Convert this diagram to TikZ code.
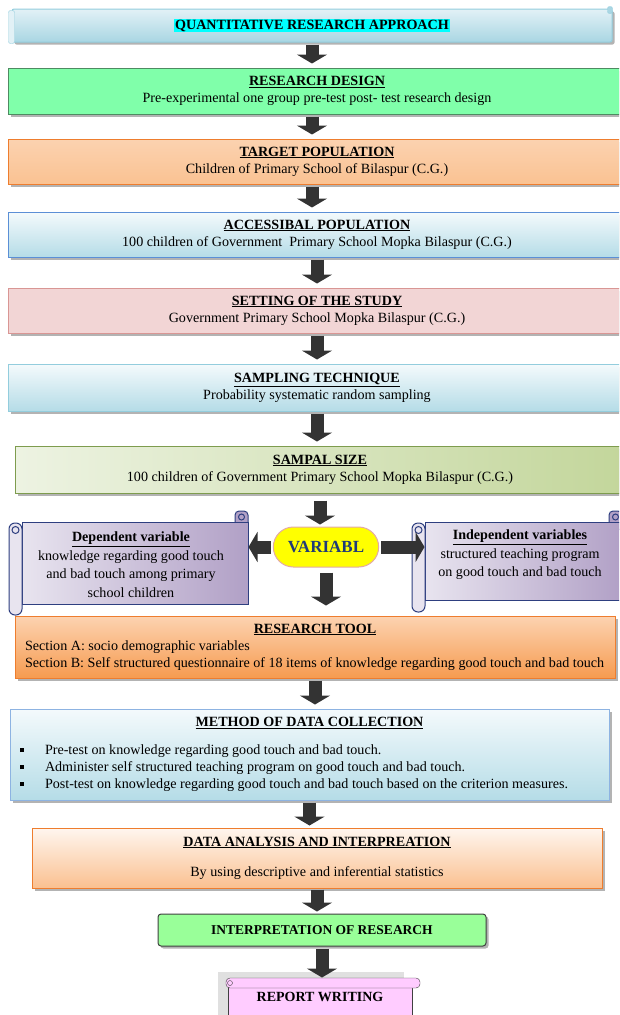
\documentclass[tikz,border=0pt]{standalone}
\usepackage{fontspec}
\setmainfont{Liberation Serif}
\usetikzlibrary{%
  arrows.meta,%
  shapes.misc,% wg. rounded rectangle
  shadows,%
  calc%
}
\setlength{\fboxsep}{1pt}

\definecolor{hlcyan}{HTML}{00FFFF}
\definecolor{bantop}{HTML}{E2F1F6}
\definecolor{banbot}{HTML}{A9D6E3}
\definecolor{banline}{HTML}{93CDDD}
\definecolor{rdfill}{HTML}{80FFAA}
\definecolor{rdline}{HTML}{4F8A62}
\definecolor{peachtop}{HTML}{FBD2B0}
\definecolor{peachmid}{HTML}{FDEBDD}
\definecolor{peachbot}{HTML}{FAC292}
\definecolor{orline}{HTML}{EE7D2E}
\definecolor{skytop}{HTML}{F4FAFC}
\definecolor{skybot}{HTML}{B5DCE7}
\definecolor{apline}{HTML}{5B8FD6}
\definecolor{stline}{HTML}{93CDDD}
\definecolor{ssfill}{HTML}{F2D5D5}
\definecolor{ssline}{HTML}{D99694}
\definecolor{szleft}{HTML}{EDF3E2}
\definecolor{szright}{HTML}{C3D69B}
\definecolor{szline}{HTML}{7E9C4E}
\definecolor{scrlleft}{HTML}{E8E4EF}
\definecolor{scrlright}{HTML}{B1A0C6}
\definecolor{scrlline}{HTML}{2E3F80}
\definecolor{varfill}{HTML}{FFFF00}
\definecolor{varline}{HTML}{E3A9A8}
\definecolor{vartext}{HTML}{1F3A78}
\definecolor{rttop}{HTML}{FCD3B1}
\definecolor{rtbot}{HTML}{F69B50}
\definecolor{mdcline}{HTML}{8DB3E2}
\definecolor{datop}{HTML}{FFF6EF}
\definecolor{dabot}{HTML}{FAC090}
\definecolor{irfill}{HTML}{99FF99}
\definecolor{rwfill}{HTML}{FFCCFF}

\newcommand{\ttl}[1]{\underline{\textbf{#1}}}
\newcommand{\sqbul}{\rule[2.5pt]{4pt}{4pt}}

\begin{document}
\begin{tikzpicture}
[x=1pt, y=-1pt, font=\fontsize{14.1}{17}\selectfont,
box/.style={rectangle, draw, line width=1pt, inner sep=0pt, align=center,
  drop shadow={shadow xshift=2.5pt, shadow yshift=-2.5pt, fill=black!50, opacity=0.6}},
flatbox/.style={rectangle, draw, line width=1pt, inner sep=0pt},
skybox/.style={box, top color=skytop, bottom color=skybot},
peachbox/.style={box, top color=peachtop, middle color=peachmid, bottom color=peachbot, draw=orline},
scrollbody/.style={flatbox, draw=scrlline, left color=scrlleft, right color=scrlright},
scrollrim/.style={draw=scrlline, line width=1pt},
scrolltext/.style={align=center, font=\fontsize{14.1}{18.5}\selectfont},
blk/.style={-{Triangle[width=30pt, length=9pt]}, line width=13pt, draw=black!80,
  shorten <=2pt, shorten >=4pt}]

\useasboundingbox (0,0) rectangle (619,1015);
\clip (0,0) rectangle (619,1015);

% approach banner
\node[box, draw=banline, top color=bantop, bottom color=banbot, rounded corners=2pt,
  minimum width=600pt, minimum height=33pt] (qra) at (312,25.5)
  {\colorbox{hlcyan}{\textbf{QUANTITATIVE RESEARCH APPROACH}}};
\draw[draw=banline, fill=bantop, rounded corners=2pt] ($(qra.north west)+(-3,2)$) rectangle ($(qra.south west)+(3,1)$);
\draw[draw=banline, fill=banbot, rounded corners=2pt] ($(qra.north east)+(-5,-2)$) rectangle ($(qra.north east)+(0,5)$);

\node[box, draw=rdline, fill=rdfill, minimum width=618pt, minimum height=46pt] (rd) at (317,91)
  {\ttl{RESEARCH DESIGN}\\Pre-experimental one group pre-test post- test research design};

\node[peachbox, minimum width=618pt, minimum height=45pt] (tp) at (317,161.5)
  {\ttl{TARGET POPULATION}\\Children of Primary School of Bilaspur (C.G.)};

\node[skybox, draw=apline, minimum width=618pt, minimum height=45pt] (ap) at (317,234.5)
  {\ttl{ACCESSIBAL POPULATION}\\100 children of Government\ \ Primary School Mopka Bilaspur (C.G.)};

\node[box, draw=ssline, fill=ssfill, minimum width=618pt, minimum height=45pt] (ss) at (317,310.5)
  {\ttl{SETTING OF THE STUDY}\\Government Primary School Mopka Bilaspur (C.G.)};

\node[skybox, draw=stline, minimum width=618pt, minimum height=47pt] (st) at (317,387.5)
  {\ttl{SAMPLING TECHNIQUE}\\Probability systematic random sampling};

\node[box, draw=szline, left color=szleft, right color=szright, minimum width=610pt, minimum height=47pt] (sz) at (320,469.5)
  {\ttl{SAMPAL SIZE}\\100 children of Government Primary School Mopka Bilaspur (C.G.)};

% variables
\node[rounded rectangle, draw=varline, line width=1pt, fill=varfill, minimum width=112pt, minimum height=40pt,
  font=\fontsize{17}{20}\selectfont\bfseries, text=vartext] (var) at (326,547) {VARIABL};

\draw[scrollrim, fill=scrlright, rounded corners=4pt] (235,511) rectangle (248,530);
\node[scrollbody, minimum width=226pt, minimum height=82pt] (dep) at (135,563) {};
\draw[scrollrim, fill=scrlleft, rounded corners=6pt] (9,523) rectangle (22,615);
\draw[scrollrim] (15.5,530) circle[radius=3.5pt];
\draw[scrollrim] (241.5,517) circle[radius=3pt];
\node[scrolltext] (deptxt) at (131,564.5)
  {\ttl{Dependent variable}\\knowledge regarding good touch\\and bad touch among primary\\school children};

\draw[scrollrim, fill=scrlright, rounded corners=4pt] (609,511) rectangle (622,530);
\node[scrollbody, minimum width=197pt, minimum height=78pt] (ind) at (523.5,561) {};
\draw[scrollrim, fill=scrlleft, rounded corners=6pt] (412,523) rectangle (425,612);
\draw[scrollrim] (418.5,530) circle[radius=3.5pt];
\draw[scrollrim] (615.5,517) circle[radius=3pt];
\node[scrolltext] (indtxt) at (520,555)
  {\ttl{Independent variables}\\structured teaching program\\on good touch and bad touch};

\node[box, draw=orline, top color=rttop, bottom color=rtbot, minimum width=600pt, minimum height=62pt] (rt) at (315,647)
  {\ttl{RESEARCH TOOL}\\
   \makebox[580pt][l]{Section A: socio demographic variables}\\
   \makebox[580pt][l]{Section B: Self structured questionnaire of 18 items of knowledge regarding good touch and bad touch}};

\node[skybox, draw=mdcline, minimum width=599pt, minimum height=91pt] (mdc) at (309.5,754.5)
  {\ttl{METHOD OF DATA COLLECTION}\\[11pt]
   \makebox[579pt][l]{\sqbul\hspace{21pt}Pre-test on knowledge regarding good touch and bad touch.}\\
   \makebox[579pt][l]{\sqbul\hspace{21pt}Administer self structured teaching program on good touch and bad touch.}\\
   \makebox[579pt][l]{\sqbul\hspace{21pt}Post-test on knowledge regarding good touch and bad touch based on the criterion measures.}};

\node[box, draw=orline, top color=datop, bottom color=dabot, minimum width=570pt, minimum height=60pt] (da) at (317,858)
  {\ttl{DATA ANALYSIS AND INTERPREATION}\\[13pt]By using descriptive and inferential statistics};

\node[box, draw=black!75, fill=irfill, rounded corners=3pt, minimum width=328pt, minimum height=32pt,
  font=\fontsize{13.5}{15}\selectfont\bfseries] (ir) at (322,930) {INTERPRETATION OF RESEARCH};

% report scroll
\fill[black!12] (218,972) rectangle (404,1015);
\node[flatbox, draw=black!75, fill=rwfill, minimum width=184pt, minimum height=58pt] (rw) at (320,1012) {};
\draw[draw=black!75, fill=rwfill, rounded corners=4pt] (226,978) rectangle (420,988);
\draw[draw=black!75] (230,983) circle[radius=2.5pt];
\node[font=\fontsize{14}{16}\selectfont\bfseries] (rwtxt) at (320,997) {REPORT WRITING};

% block arrows
\draw[blk] (qra.south) -- (qra.south |- rd.north);
\draw[blk] (rd.south -| qra.south) -- (tp.north -| qra.south);
\draw[blk] (tp.south -| qra.south) -- (ap.north -| qra.south);
\draw[blk] (ap.south) -- (ap.south |- ss.north);
\draw[blk] (ss.south) -- (ss.south |- st.north);
\draw[blk] (st.south) -- (st.south |- sz.north);
\draw[blk, shorten <=7pt, shorten >=2pt] (sz.south) -- (sz.south |- var.north);
\draw[blk, shorten >=0pt] (var.west) -- (var.west -| dep.east);
\draw[blk, shorten >=0pt] (var.east) -- (var.east -| ind.west);
\draw[blk, shorten <=5pt, shorten >=10pt] (var.south) -- (var.south |- rt.north);
\draw[blk] (rt.south) -- (rt.south |- mdc.north);
\draw[blk, shorten >=2pt] (mdc.south) -- (mdc.south |- da.north);
\draw[blk, shorten <=1pt, shorten >=2pt] (da.south) -- (da.south |- ir.north);
\draw[blk, shorten >=5pt] (ir.south) -- (ir.south |- rw.north);
\end{tikzpicture}
\end{document}
